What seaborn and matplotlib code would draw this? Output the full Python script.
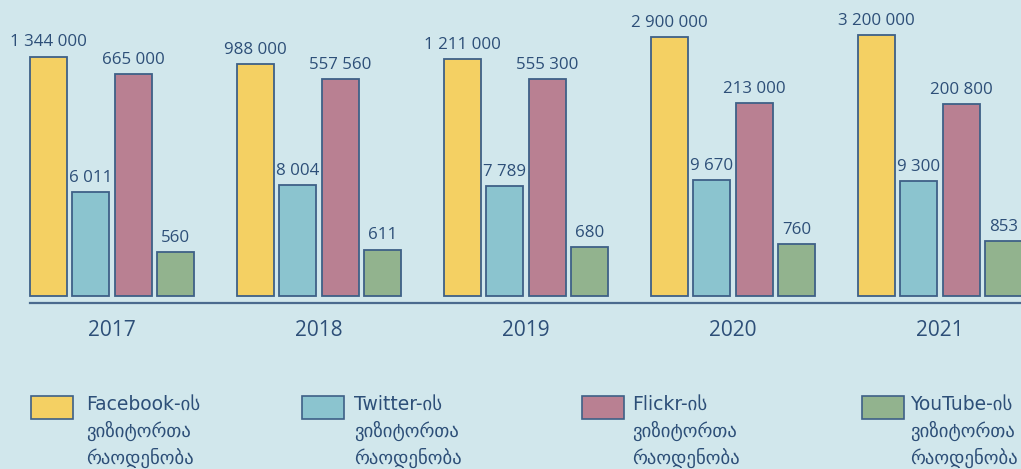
import numpy as np
import pandas as pd
import matplotlib
matplotlib.use("Agg")
import matplotlib.pyplot as plt
from matplotlib.patches import Rectangle
import seaborn as sns

# ---------------- data ----------------
years = ["2017", "2018", "2019", "2020", "2021"]
platforms = ["Facebook", "Twitter", "Flickr", "YouTube"]
facebook = [1344000, 988000, 1211000, 2900000, 3200000]
twitter = [6011, 8004, 7789, 9670, 9300]
flickr = [665000, 557560, 555300, 213000, 200800]
youtube = [560, 611, 680, 760, 853]
legend_labels = [
    "Facebook-ის\nვიზიტორთა\nრაოდენობა",
    "Twitter-ის\nვიზიტორთა\nრაოდენობა",
    "Flickr-ის\nვიზიტორთა\nრაოდენობა",
    "YouTube-ის\nვიზიტორთა\nრაოდენობა",
]

series = [facebook, twitter, flickr, youtube]
df = pd.DataFrame(
    [(y, p, v) for p, vals in zip(platforms, series) for y, v in zip(years, vals)],
    columns=["year", "platform", "value"],
)

# ---------------- style ----------------
BG = "#d1e7ec"
EDGE = "#3e6087"
TXT = "#2d4f78"
colors = ["#f4d063", "#8bc4cf", "#b98092", "#92b38e"]

sns.set_theme(style="white")
plt.rcParams["font.family"] = ["Open Sans", "DejaVu Sans"]

W, H = 1021, 469
fig = plt.figure(figsize=(W / 100, H / 100), dpi=100)
fig.patch.set_facecolor(BG)

# axes: bottom at axis line (y=303px), top at figure top
ax_bottom_px = 303
ax = fig.add_axes([0, (H - ax_bottom_px) / H, 1, ax_bottom_px / H])
ax.set_facecolor(BG)

sns.barplot(
    data=df, x="year", y="value", hue="platform",
    order=years, hue_order=platforms, palette=colors,
    width=0.82, gap=0.13, edgecolor=EDGE, linewidth=1.3,
    errorbar=None, legend=False, log_scale=True, ax=ax, saturation=1,
)

# log-scale geometry: ~57.7 px per decade
px_dec = 57.7
base_log = 1.987
low_log = base_log - 7.3 / px_dec
high_log = low_log + ax_bottom_px / px_dec
base = 10 ** base_log
for p in ax.patches:
    top = p.get_y() + p.get_height()
    p.set_y(base)
    p.set_height(top - base)
ax.set_ylim(10 ** low_log, 10 ** high_log)

# x layout: group 2017 centred at 112px, 207px per group
x0_px, step_px = 112, 207
ax.set_xlim(-x0_px / step_px, (W - x0_px) / step_px)

for cont, vals in zip(ax.containers, series):
    ax.bar_label(
        cont, labels=[f"{v:,}".replace(",", " ") for v in vals],
        padding=4.5, fontsize=12.2, color=TXT,
    )

for s in ["top", "right", "left"]:
    ax.spines[s].set_visible(False)
ax.spines["bottom"].set_color("#4a6a8e")
ax.spines["bottom"].set_linewidth(1.6)
ax.spines["bottom"].set_bounds((30 - x0_px) / step_px, (W - x0_px) / step_px)
ax.set_yticks([])
ax.minorticks_off()
ax.set_ylabel("")
ax.set_xlabel("")
ax.tick_params(axis="x", length=0, pad=12.5, labelsize=15, labelcolor=TXT)

# ---------------- legend (manual) ----------------
rect_x = [31, 301.5, 582, 861.5]
text_x = [86, 354, 632.5, 910]
for rx, tx, c, lab in zip(rect_x, text_x, colors, legend_labels):
    fig.add_artist(Rectangle(
        (rx / W, (H - 419) / H), 42 / W, 23.3 / H,
        transform=fig.transFigure, facecolor=c, edgecolor=EDGE, linewidth=1.2,
    ))
    fig.text(tx / W, (H - 395) / H, lab, ha="left", va="top",
             fontsize=13.5, color=TXT, linespacing=1.42,
             family=["DejaVu Sans"])

fig.savefig("out.png", dpi=100, facecolor=BG)
